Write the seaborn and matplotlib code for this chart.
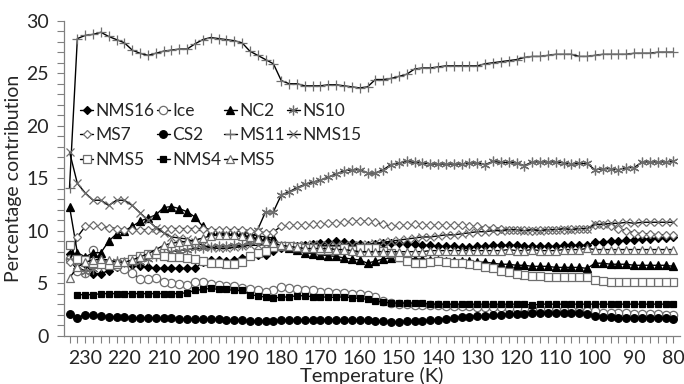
import numpy as np
import pandas as pd
import matplotlib
matplotlib.use("Agg")
import matplotlib.pyplot as plt
from matplotlib.ticker import MultipleLocator
import seaborn as sns

temperature = list(range(234, 79, -2))

NMS16 = [7.8, 7.3, 6.8, 5.9, 5.9, 6.2, 6.5, 6.6, 6.7, 6.6,
         6.5, 6.4, 6.4, 6.4, 6.4, 6.4, 6.4, 7.0, 7.2, 7.2,
         7.1, 7.2, 7.4, 7.6, 7.7, 7.7, 8.1, 8.3, 8.4, 8.5,
         8.6, 8.7, 8.8, 8.9, 9.0, 8.9, 8.8, 8.7, 8.6, 8.7,
         8.8, 8.8, 8.8, 8.7, 8.7, 8.6, 8.6, 8.5, 8.5, 8.5,
         8.4, 8.4, 8.5, 8.5, 8.6, 8.6, 8.6, 8.6, 8.5, 8.5,
         8.5, 8.5, 8.5, 8.6, 8.6, 8.6, 8.6, 8.9, 8.9, 9.0,
         9.0, 9.1, 9.1, 9.2, 9.2, 9.3, 9.3, 9.4]
Ice = [7.3, 6.2, 6.0, 8.2, 7.0, 6.8, 6.6, 6.3, 6.0, 5.4,
       5.4, 5.5, 5.1, 5.0, 4.9, 4.8, 5.1, 5.1, 4.9, 4.8,
       4.7, 4.7, 4.5, 4.4, 4.3, 4.2, 4.3, 4.6, 4.5, 4.4,
       4.3, 4.3, 4.2, 4.2, 4.1, 4.1, 4.0, 4.0, 3.9, 3.7,
       3.3, 3.1, 3.0, 3.0, 2.9, 2.9, 2.9, 2.9, 2.8, 2.8,
       2.8, 2.8, 2.7, 2.7, 2.7, 2.7, 2.6, 2.6, 2.6, 2.5,
       2.5, 2.5, 2.4, 2.4, 2.4, 2.3, 2.3, 2.3, 2.2, 2.2,
       2.2, 2.2, 2.1, 2.1, 2.1, 2.1, 2.0, 2.0]
NC2 = [12.3, 7.9, 7.5, 7.9, 7.9, 9.0, 9.7, 10.0, 10.4, 10.9,
       11.2, 11.5, 12.2, 12.3, 12.1, 11.8, 11.3, 10.4, 10.0, 10.0,
       10.0, 10.0, 9.9, 9.7, 9.5, 9.4, 9.3, 8.5, 8.3, 8.2,
       7.9, 7.8, 7.7, 7.6, 7.55, 7.4, 7.3, 7.2, 6.9, 7.1,
       7.3, 7.4, 7.5, 7.4, 7.3, 7.3, 7.2, 7.2, 7.1, 7.1,
       7.1, 7.1, 7.0, 7.0, 6.9, 6.8, 6.8, 6.7, 6.7, 6.6,
       6.6, 6.6, 6.5, 6.5, 6.5, 6.5, 6.4, 6.9, 6.9, 6.8,
       6.8, 6.8, 6.7, 6.7, 6.7, 6.7, 6.7, 6.6]
NS10 = [7.2, 6.6, 6.1, 6.3, 6.6, 6.9, 7.1, 7.0, 6.9, 7.0,
        7.3, 7.6, 7.8, 8.0, 8.1, 8.2, 8.3, 8.3, 8.4, 8.5,
        8.5, 8.6, 8.6, 8.9, 10.1, 11.8, 11.8, 13.4, 13.7, 14.1,
        14.4, 14.6, 14.8, 15.1, 15.4, 15.7, 15.8, 15.8, 15.5, 15.5,
        15.8, 16.3, 16.4, 16.6, 16.5, 16.45, 16.35, 16.35, 16.35, 16.35,
        16.35, 16.45, 16.45, 16.3, 16.6, 16.5, 16.5, 16.45, 16.2, 16.55,
        16.55, 16.55, 16.55, 16.45, 16.35, 16.4, 16.4, 15.8, 15.9, 15.9,
        15.8, 16.0, 16.0, 16.55, 16.55, 16.55, 16.55, 16.6]
MS7 = [7.0, 9.4, 10.4, 10.5, 10.4, 10.3, 10.2, 10.1, 10.1, 10.1,
       10.1, 10.1, 10.2, 10.2, 10.2, 10.2, 10.2, 10.2, 10.1, 10.1,
       10.1, 10.1, 10.1, 10.0, 9.9, 9.8, 9.9, 10.4, 10.5, 10.5,
       10.5, 10.6, 10.6, 10.7, 10.7, 10.8, 10.9, 10.9, 10.9, 10.8,
       10.6, 10.4, 10.5, 10.5, 10.6, 10.5, 10.5, 10.5, 10.5, 10.5,
       10.5, 10.4, 10.4, 10.3, 10.3, 10.2, 10.1, 10.1, 10.1, 10.0,
       10.1, 10.1, 10.1, 10.1, 10.2, 10.2, 10.2, 10.5, 10.5, 10.4,
       10.2, 10.0, 9.8, 9.7, 9.7, 9.6, 9.6, 9.6]
CS2 = [2.1, 1.7, 2.0, 2.0, 1.9, 1.8, 1.8, 1.8, 1.7, 1.7,
       1.7, 1.7, 1.7, 1.7, 1.6, 1.6, 1.6, 1.6, 1.6, 1.6,
       1.5, 1.5, 1.5, 1.4, 1.4, 1.4, 1.4, 1.5, 1.5, 1.5,
       1.5, 1.5, 1.5, 1.5, 1.5, 1.5, 1.5, 1.5, 1.5, 1.4,
       1.4, 1.3, 1.3, 1.4, 1.4, 1.4, 1.5, 1.5, 1.6, 1.7,
       1.8, 1.8, 1.9, 1.9, 2.0, 2.0, 2.1, 2.1, 2.1, 2.2,
       2.2, 2.2, 2.2, 2.2, 2.2, 2.2, 2.1, 1.9, 1.8, 1.8,
       1.7, 1.7, 1.7, 1.7, 1.7, 1.7, 1.7, 1.6]
MS11 = [14.1, 28.3, 28.6, 28.7, 28.9, 28.5, 28.2, 27.9, 27.2, 26.9,
        26.7, 26.9, 27.1, 27.2, 27.3, 27.3, 27.8, 28.2, 28.4, 28.3,
        28.2, 28.1, 27.9, 27.1, 26.7, 26.3, 25.9, 24.3, 24.0, 24.0,
        23.8, 23.8, 23.8, 23.9, 23.9, 23.8, 23.7, 23.6, 23.7, 24.4,
        24.4, 24.5, 24.7, 24.9, 25.4, 25.5, 25.5, 25.6, 25.7, 25.7,
        25.7, 25.7, 25.7, 25.9, 26.0, 26.1, 26.2, 26.3, 26.5, 26.6,
        26.6, 26.7, 26.8, 26.8, 26.8, 26.6, 26.6, 26.7, 26.8, 26.8,
        26.8, 26.8, 26.9, 26.9, 26.9, 27.0, 27.0, 27.0]
NMS15 = [17.5, 14.5, 13.6, 12.9, 12.9, 12.4, 12.9, 12.9, 12.4, 11.7,
         11.0, 10.3, 9.8, 9.4, 9.3, 9.2, 8.9, 8.6, 8.4, 8.3,
         8.3, 8.4, 8.5, 8.6, 8.6, 8.7, 8.7, 8.6, 8.5, 8.6,
         8.6, 8.7, 8.6, 8.6, 8.6, 8.6, 8.6, 8.6, 8.7, 8.8,
         8.9, 9.0, 9.1, 9.2, 9.3, 9.4, 9.4, 9.5, 9.6, 9.6,
         9.7, 9.8, 9.9, 9.9, 10.0, 10.0, 10.1, 10.1, 10.0, 10.1,
         10.0, 10.1, 10.1, 10.2, 10.1, 10.2, 10.2, 10.6, 10.6, 10.7,
         10.7, 10.8, 10.7, 10.8, 10.8, 10.8, 10.8, 10.8]
NMS5 = [8.6, 7.3, 7.2, 6.9, 6.8, 6.7, 6.8, 7.0, 7.3, 7.6,
        7.8, 7.8, 7.6, 7.5, 7.5, 7.4, 7.3, 7.1, 6.9, 6.9,
        6.8, 6.8, 7.0, 7.6, 7.9, 8.1, 8.4, 8.5, 8.5, 8.4,
        8.3, 8.3, 8.2, 8.2, 8.2, 8.3, 8.2, 8.3, 8.3, 8.3,
        8.1, 7.9, 7.5, 7.1, 6.9, 6.9, 7.0, 7.1, 7.0, 6.9,
        6.9, 6.8, 6.7, 6.5, 6.4, 6.2, 6.1, 5.9, 5.8, 5.7,
        5.7, 5.6, 5.6, 5.6, 5.6, 5.6, 5.6, 5.3, 5.2, 5.1,
        5.1, 5.1, 5.1, 5.1, 5.1, 5.1, 5.1, 5.1]
NMS4 = [np.nan, 3.9, 3.9, 3.9, 4.0, 4.0, 4.0, 4.0, 4.0, 4.0,
        4.0, 4.0, 4.0, 4.0, 4.0, 4.1, 4.3, 4.4, 4.5, 4.4,
        4.4, 4.3, 4.3, 3.9, 3.8, 3.65, 3.6, 3.65, 3.7, 3.8,
        3.8, 3.7, 3.7, 3.65, 3.65, 3.7, 3.6, 3.55, 3.45, 3.3,
        3.2, 3.1, 3.1, 3.1, 3.1, 3.1, 3.0, 3.0, 3.0, 3.0,
        3.0, 3.0, 3.0, 3.0, 3.0, 3.0, 3.0, 3.0, 3.0, 2.9,
        3.0, 3.0, 3.0, 3.0, 3.0, 3.0, 3.0, 3.0, 3.0, 3.0,
        3.0, 3.0, 3.0, 3.0, 3.0, 3.0, 3.0, 3.0]
MS5 = [5.5, 6.5, 7.0, 7.2, 7.3, 7.2, 7.0, 7.0, 7.2, 7.5,
       7.8, 8.2, 8.6, 8.8, 8.9, 9.0, 9.1, 9.3, 9.5, 9.6,
       9.6, 9.6, 9.5, 9.4, 9.2, 9.0, 8.8, 8.6, 8.5, 8.4,
       8.3, 8.3, 8.3, 8.3, 8.2, 8.2, 8.1, 8.0, 8.0, 8.0,
       8.0, 8.0, 8.0, 8.0, 8.0, 8.0, 8.1, 8.1, 8.1, 8.1,
       8.1, 8.1, 8.1, 8.1, 8.1, 8.1, 8.2, 8.1, 8.1, 8.2,
       8.1, 8.1, 8.1, 8.2, 8.2, 8.2, 8.3, 8.2, 8.2, 8.2,
       8.2, 8.2, 8.2, 8.2, 8.2, 8.2, 8.2, 8.2]

series_names = ["NMS16", "Ice", "NC2", "NS10", "MS7", "CS2",
                "MS11", "NMS15", "NMS5", "NMS4", "MS5"]
series_values = [NMS16, Ice, NC2, NS10, MS7, CS2, MS11, NMS15, NMS5, NMS4, MS5]

GREY = "#6e6e6e"
styles = {
    "NMS16": dict(marker="D", ms=4.2, mfc="black", mec="black"),
    "Ice": dict(marker="o", ms=6, mfc="white", mec=GREY),
    "NC2": dict(marker="^", ms=5.5, mfc="black", mec="black"),
    "NS10": dict(marker=(6, 2, 0), ms=7, mfc=GREY, mec=GREY),
    "MS7": dict(marker="D", ms=4.5, mfc="white", mec=GREY),
    "CS2": dict(marker="o", ms=5.5, mfc="black", mec="black"),
    "MS11": dict(marker="+", ms=7, mfc=GREY, mec=GREY),
    "NMS15": dict(marker="x", ms=6, mfc=GREY, mec=GREY),
    "NMS5": dict(marker="s", ms=5.5, mfc="white", mec=GREY),
    "NMS4": dict(marker="s", ms=5, mfc="black", mec="black"),
    "MS5": dict(marker="^", ms=5.5, mfc="white", mec=GREY),
}

sns.set_theme(style="ticks")
plt.rcParams["font.family"] = ["Lato", "DejaVu Sans"]

fig = plt.figure(figsize=(6.84, 3.84), dpi=100)
ax = fig.add_axes([0.0936, 0.126, 0.9, 0.82])

handles = {}
for name, vals in zip(series_names, series_values):
    df = pd.DataFrame({"T": temperature, "v": vals}).dropna()
    st = styles[name]
    sns.lineplot(data=df, x="T", y="v", ax=ax, color="black", linewidth=1.0,
                 marker=st["marker"], markersize=st["ms"],
                 markerfacecolor=st["mfc"], markeredgecolor=st["mec"],
                 markeredgewidth=0.9, label=name, legend=False)
    handles[name] = ax.lines[-1]

ax.set_xlim(235.4, 78.4)
ax.set_ylim(0, 30)
ax.xaxis.set_minor_locator(MultipleLocator(2))
ax.yaxis.set_major_locator(MultipleLocator(5))
ax.yaxis.set_minor_locator(MultipleLocator(1))
ax.set_xticks(list(range(230, 79, -10)))
ax.tick_params(axis="both", which="major", direction="out", length=5,
               width=0.8, color="#808080", labelsize=14, pad=5)
ax.tick_params(axis="y", which="major", pad=6)
ax.tick_params(axis="both", which="minor", direction="out", length=5,
               width=0.8, color="#808080")
for sp in ["top", "right"]:
    ax.spines[sp].set_visible(False)
for sp in ["left", "bottom"]:
    ax.spines[sp].set_color("#808080")
    ax.spines[sp].set_linewidth(0.9)

ax.set_xlabel("Temperature (K)", fontsize=14.5, labelpad=0)
ax.set_ylabel("Percentage contribution", fontsize=14, labelpad=3)

order = ["NMS16", "MS7", "NMS5", "Ice", "CS2", "NMS4",
         "NC2", "MS11", "MS5", "NS10", "NMS15"]
leg = ax.legend([handles[n] for n in order], order, ncol=4,
                loc="upper left", bbox_to_anchor=(0.026, 0.74),
                frameon=False, fontsize=12.5, handlelength=0.75,
                handletextpad=0.15, columnspacing=0.12, labelspacing=0.5,
                borderaxespad=0.0, borderpad=0.0)

fig.savefig("out.png", dpi=100, facecolor="white")
